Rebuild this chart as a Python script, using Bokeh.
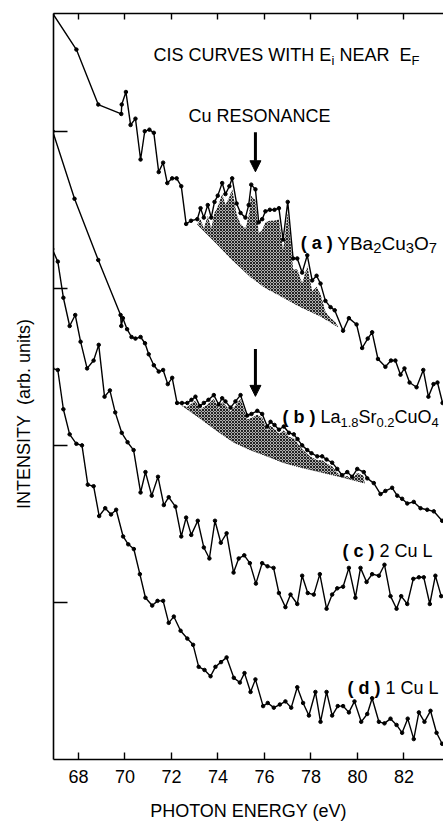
import math
import numpy as np
from bokeh.plotting import figure
from bokeh.models import Range1d, FixedTicker, LinearAxis, Label, Arrow, NormalHead
from bokeh.embed import file_html
from bokeh.resources import INLINE

# ---------------- data (photon energy in eV, intensity in arb. units) -------------
a_E = [66.89, 67.91, 68.85, 69.84, 69.86, 70.04, 70.24, 70.45, 70.67, 70.85, 71.05, 71.24, 71.45, 71.64,
       71.82, 72.03, 72.22, 72.42, 72.63, 72.84, 73.11, 73.25, 73.39, 73.56, 73.71, 73.85, 73.99, 74.18,
       74.32, 74.49, 74.61, 74.80, 74.97, 75.18, 75.32, 75.43, 75.61, 75.75, 75.90, 76.04, 76.23, 76.43,
       76.62, 76.80, 77.00, 77.23, 77.41, 77.62, 77.84, 78.05, 78.24, 78.41, 78.62, 78.84, 79.02, 79.38,
       79.63, 79.96, 80.20, 80.44, 80.63, 80.88, 81.20, 81.44, 81.63, 81.85, 82.02, 82.24, 82.54, 82.83,
       83.05, 83.27, 83.44, 83.66]
a_I = [4.75, 4.52, 4.17, 4.11, 4.17, 4.25, 4.04, 4.08, 3.82, 4.00, 4.01, 3.99, 3.74, 3.80,
       3.67, 3.70, 3.70, 3.65, 3.41, 3.43, 3.44, 3.51, 3.45, 3.53, 3.45, 3.55, 3.59, 3.67,
       3.60, 3.65, 3.70, 3.54, 3.48, 3.45, 3.53, 3.66, 3.63, 3.42, 3.44, 3.49, 3.50, 3.50,
       3.51, 3.31, 3.55, 3.19, 3.19, 3.10, 3.21, 3.05, 3.08, 3.03, 2.92, 2.88, 2.86, 2.73,
       2.81, 2.77, 2.62, 2.68, 2.72, 2.55, 2.50, 2.54, 2.54, 2.45, 2.49, 2.40, 2.37, 2.48,
       2.31, 2.39, 2.40, 2.27]

b_E = [66.89, 67.83, 68.85, 69.81, 69.84, 69.91, 70.09, 70.28, 70.45, 70.67, 70.86, 71.02, 71.24, 71.45,
       71.64, 71.84, 72.03, 72.24, 72.45, 72.68, 72.86, 73.03, 73.22, 73.39, 73.59, 73.82, 74.03, 74.18,
       74.32, 74.54, 74.75, 74.97, 75.26, 75.44, 75.69, 75.90, 76.12, 76.26, 76.43, 76.62, 76.83, 77.05,
       77.26, 77.42, 77.62, 77.84, 78.02, 78.27, 78.48, 78.67, 78.91, 79.13, 79.34, 79.56, 79.77, 79.99,
       80.27, 80.42, 80.70, 80.99, 81.20, 81.49, 81.71, 81.92, 82.14, 82.42, 82.71, 83.00, 83.28, 83.64]
b_I = [4.00, 3.57, 3.18, 2.83, 2.76, 2.81, 2.74, 2.69, 2.68, 2.69, 2.65, 2.58, 2.51, 2.47,
       2.48, 2.39, 2.43, 2.27, 2.27, 2.27, 2.29, 2.31, 2.25, 2.27, 2.29, 2.32, 2.26, 2.30,
       2.28, 2.24, 2.28, 2.32, 2.19, 2.20, 2.22, 2.20, 2.12, 2.15, 2.13, 2.10, 2.12, 2.08,
       2.07, 2.04, 2.00, 1.97, 1.95, 1.93, 1.93, 1.91, 1.89, 1.85, 1.81, 1.83, 1.80, 1.85,
       1.83, 1.79, 1.76, 1.69, 1.71, 1.73, 1.68, 1.66, 1.63, 1.64, 1.60, 1.59, 1.58, 1.52]

c_E = [66.87, 67.11, 67.35, 67.62, 67.86, 68.09, 68.37, 68.65, 68.87, 69.12, 69.35, 69.58, 69.86, 70.11,
       70.37, 70.67, 70.88, 71.15, 71.42, 71.67, 71.88, 72.17, 72.42, 72.63, 72.85, 73.13, 73.39, 73.63,
       73.87, 74.12, 74.37, 74.67, 74.89, 75.13, 75.37, 75.63, 75.90, 76.13, 76.39, 76.62, 76.90, 77.12,
       77.41, 77.62, 77.86, 78.12, 78.38, 78.67, 78.91, 79.13, 79.38, 79.63, 79.91, 80.13, 80.39, 80.63,
       80.92, 81.16, 81.42, 81.68, 81.88, 82.14, 82.40, 82.64, 82.85, 83.11, 83.35, 83.60]
c_I = [3.25, 3.17, 2.94, 2.76, 2.83, 2.66, 2.49, 2.54, 2.64, 2.31, 2.35, 2.21, 2.08, 2.02,
       1.97, 1.70, 1.83, 1.68, 1.80, 1.62, 1.67, 1.61, 1.42, 1.54, 1.43, 1.52, 1.35, 1.28,
       1.52, 1.38, 1.44, 1.19, 1.28, 1.30, 1.25, 1.12, 1.25, 1.23, 1.22, 1.06, 0.97, 1.05,
       0.99, 1.17, 1.06, 1.05, 1.18, 0.96, 1.05, 1.09, 1.10, 1.22, 1.03, 1.22, 1.13, 1.18,
       1.17, 1.24, 1.04, 0.96, 1.04, 0.99, 1.15, 1.16, 1.16, 0.99, 1.17, 1.04]

d_E = [66.87, 67.11, 67.35, 67.62, 67.91, 68.15, 68.40, 68.65, 68.89, 69.15, 69.40, 69.62, 69.92, 70.14,
       70.38, 70.64, 70.88, 71.17, 71.40, 71.64, 71.88, 72.10, 72.39, 72.68, 72.93, 73.17, 73.42, 73.68,
       73.89, 74.13, 74.37, 74.68, 74.94, 75.14, 75.40, 75.61, 75.94, 76.14, 76.40, 76.66, 76.90, 77.15,
       77.41, 77.66, 77.91, 78.19, 78.41, 78.67, 78.91, 79.15, 79.38, 79.63, 79.87, 80.16, 80.42, 80.63,
       80.92, 81.16, 81.42, 81.68, 81.92, 82.16, 82.42, 82.64, 82.88, 83.14, 83.40, 83.64]
d_I = [2.49, 2.48, 2.23, 2.07, 2.01, 2.00, 1.75, 1.74, 1.55, 1.60, 1.56, 1.59, 1.42, 1.37,
       1.34, 1.18, 1.03, 0.98, 1.01, 1.01, 0.87, 0.91, 0.82, 0.77, 0.73, 0.59, 0.57, 0.53,
       0.59, 0.62, 0.65, 0.52, 0.49, 0.55, 0.43, 0.51, 0.34, 0.36, 0.33, 0.35, 0.37, 0.33,
       0.46, 0.36, 0.28, 0.43, 0.24, 0.43, 0.28, 0.34, 0.34, 0.30, 0.37, 0.24, 0.29, 0.39,
       0.24, 0.23, 0.26, 0.22, 0.17, 0.26, 0.13, 0.30, 0.24, 0.31, 0.17, 0.10]

# smooth backgrounds under the Cu resonance (lower edge of the shaded areas)
bga_E = [73.08, 73.89, 74.54, 75.40, 76.04, 76.69, 77.55, 78.41, 79.18]
bga_I = [3.41, 3.29, 3.19, 3.07, 3.00, 2.95, 2.88, 2.82, 2.75]
bgb_E = [72.39, 73.25, 73.98, 74.67, 75.40, 76.13, 76.82, 77.55, 78.41, 79.27, 80.30]
bgb_I = [2.26, 2.17, 2.09, 2.02, 1.97, 1.93, 1.89, 1.86, 1.83, 1.80, 1.76]

resonance_E = 75.61          # Cu resonance arrows
x_ticks = [68, 70, 72, 74, 76, 78, 80, 82]
y_ticks = [1, 2, 3, 4]

# ---------------- styling helpers -------------
FONT = "Liberation Sans"
NB = "\u00a0"
W_N = {' ': .278, NB: .278, '(': .333, ')': .333, '.': .278, 'A': .667, 'B': .667, 'C': .722, 'E': .667,
       'F': .611, 'I': .278, 'L': .556, 'N': .722, 'O': .778, 'R': .722, 'S': .667, 'T': .611, 'U': .722,
       'V': .667, 'W': .944, 'Y': .667, 'H': .722, 'a': .556, 'r': .333, 'u': .556, 'i': .222}
for dch in "0123456789":
    W_N[dch] = .556
W_B = {' ': .278, NB: .278, '(': .333, ')': .333, 'a': .556, 'b': .611, 'c': .556, 'd': .611}


def text_width(txt, bold):
    tab = W_B if bold else W_N
    return sum(tab.get(ch, .6) for ch in txt)


Y_TOP = 4.7496
p = figure(width=443, height=823,
           x_range=Range1d(66.925, 83.699), y_range=Range1d(0, Y_TOP),
           output_backend="svg", toolbar_location=None,
           min_border_left=53, min_border_right=0, min_border_top=13, min_border_bottom=56)
p.grid.visible = False
p.outline_line_color = None
p.background_fill_color = "white"
p.border_fill_color = "white"

xa = p.below[0]
xa.ticker = FixedTicker(ticks=x_ticks)
xa.major_tick_in = 7
xa.major_tick_out = 0
xa.minor_tick_in = 0
xa.minor_tick_out = 0
xa.axis_line_width = 1.6
xa.major_tick_line_width = 1.4
xa.major_label_text_font = FONT
xa.major_label_text_font_size = "18px"
xa.major_label_text_color = "black"
xa.major_label_standoff = 10
xa.axis_label = "PHOTON ENERGY (eV)"
xa.axis_label_text_font = FONT
xa.axis_label_text_font_size = "18px"
xa.axis_label_text_font_style = "normal"
xa.axis_label_text_color = "black"
xa.axis_label_standoff = 15

ya = p.left[0]
ya.ticker = FixedTicker(ticks=y_ticks)
ya.major_tick_in = 14
ya.major_tick_out = 0
ya.minor_tick_in = 0
ya.minor_tick_out = 0
ya.axis_line_width = 1.6
ya.major_tick_line_width = 1.4
ya.major_label_overrides = {t: "" for t in y_ticks}
ya.major_label_standoff = 0
ya.axis_label = "INTENSITY" + NB + NB + "(arb. units)" + NB * 11
ya.axis_label_text_font = FONT
ya.axis_label_text_font_size = "18px"
ya.axis_label_text_font_style = "normal"
ya.axis_label_text_color = "black"
ya.axis_label_standoff = 20

top = LinearAxis(ticker=FixedTicker(ticks=x_ticks), major_tick_in=6, major_tick_out=0,
                 minor_tick_in=0, minor_tick_out=0, axis_line_width=1.6, major_tick_line_width=1.4,
                 axis_line_color="black", major_tick_line_color="black",
                 major_label_overrides={t: "" for t in x_ticks}, major_label_standoff=0)
p.add_layout(top, "above")


def shade(cE, cI, bE, bI, gap):
    cE = np.asarray(cE); cI = np.asarray(cI)
    m = (cE > bE[0]) & (cE < bE[-1])
    xs = cE[m]
    topv = np.maximum(cI[m] - gap, np.interp(xs, bE, bI))
    px = [bE[0]] + list(xs) + [bE[-1]] + list(bE[::-1])
    py = [bI[0]] + list(topv) + [bI[-1]] + list(bI[::-1])
    return px, py


for (cE, cI, bE, bI, gap) in [(a_E, a_I, bga_E, bga_I, 0.07), (b_E, b_I, bgb_E, bgb_I, 0.025)]:
    sx, sy = shade(cE, cI, bE, bI, gap)
    p.patch(sx, sy, fill_color="#b0b0b0", line_color=None,
            hatch_pattern="diagonal_cross", hatch_color="#222222", hatch_scale=3.0, hatch_weight=1.0)

p.line(bgb_E, bgb_I, line_color="black", line_width=0.8, line_dash="1 1")

for cE, cI in [(a_E, a_I), (b_E, b_I), (c_E, c_I), (d_E, d_I)]:
    p.line(cE, cI, line_color="black", line_width=1.4)
    p.scatter(cE, cI, size=3.5, color="black")


def add_text(x, y, segs, size=18, sub_ratio=0.72):
    off = 0.0
    for txt, st in segs:
        bold = st == "b"
        fs = size * sub_ratio if st == "s" else size
        yo = -5 if st == "s" else 0
        p.add_layout(Label(x=x, y=y, x_offset=off, y_offset=yo, text=txt, text_font=FONT,
                           text_font_size=f"{fs:.1f}px", text_font_style="bold" if bold else "normal",
                           text_color="black", text_align="left", text_baseline="alphabetic"))
        off += text_width(txt, bold) * fs


add_text(71.226, 4.485, [("CIS CURVES WITH E", "n"), ("i", "s"), (NB + "NEAR" + NB + NB + "E", "n"), ("F", "s")])
add_text(72.731, 4.096, [("Cu RESONANCE", "n")])
add_text(77.560, 3.288, [("( a )", "b")])
add_text(79.130, 3.288, [("YBa", "n"), ("2", "s"), ("Cu", "n"), ("3", "s"), ("O", "n"), ("7", "s")],
         size=19, sub_ratio=0.78)
add_text(76.774, 2.180, [("( b )", "b"), (NB + "La", "n"), ("1.8", "s"), ("Sr", "n"), ("0.2", "s"), ("CuO", "n"), ("4", "s")])
add_text(79.355, 1.329, [("( c )", "b"), (NB + "2 Cu L", "n")])
add_text(79.570, 0.4535, [("( d )", "b"), (NB + "1 Cu L", "n")])

for y0, y1 in [(3.994, 3.742), (2.614, 2.312)]:
    p.add_layout(Arrow(end=NormalHead(size=11, fill_color="black", line_color="black"),
                       x_start=resonance_E, y_start=y0, x_end=resonance_E, y_end=y1,
                       line_width=3, line_color="black"))

open("out.html", "w").write(file_html(p, INLINE))
